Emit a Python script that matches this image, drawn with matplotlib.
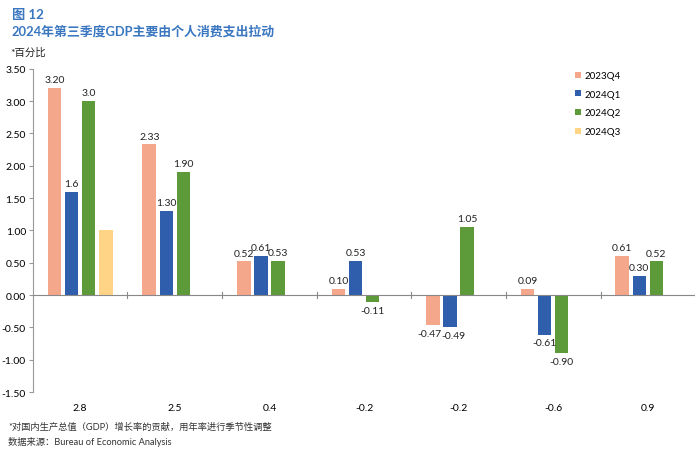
import numpy as np
import matplotlib
matplotlib.use("Agg")
import matplotlib.pyplot as plt

plt.rcParams['font.family'] = ['Lato', 'Noto Sans CJK SC', 'DejaVu Sans']

# data
categories = ["2.8", "2.5", "0.4", "-0.2", "-0.2", "-0.6", "0.9"]
series = ["2023Q4", "2024Q1", "2024Q2", "2024Q3"]
q4_2023 = [3.20, 2.33, 0.52, 0.10, -0.47, 0.09, 0.61]
q1_2024 = [1.6, 1.30, 0.61, 0.53, -0.49, -0.61, 0.30]
q2_2024 = [3.0, 1.90, 0.53, -0.11, 1.05, -0.90, 0.52]
q3_2024 = [1.0, np.nan, np.nan, np.nan, np.nan, np.nan, np.nan]
lab_q4 = ["3.20", "2.33", "0.52", "0.10", "-0.47", "0.09", "0.61"]
lab_q1 = ["1.6", "1.30", "0.61", "0.53", "-0.49", "-0.61", "0.30"]
lab_q2 = ["3.0", "1.90", "0.53", "-0.11", "1.05", "-0.90", "0.52"]
lab_q3 = ["", "", "", "", "", "", ""]

colors = ["#F4A78A", "#2F5EAC", "#5C9A3A", "#FFD486"]
values = [q4_2023, q1_2024, q2_2024, q3_2024]
labels = [lab_q4, lab_q1, lab_q2, lab_q3]

fig = plt.figure(figsize=(7, 4.56), dpi=100)
ax = fig.add_axes([0.047, 0.138, 0.946, 0.709])

x = np.arange(len(categories))
w = 0.143
step = 0.18
for i in range(4):
    xs = x + (i - 1.5) * step
    ax.bar(xs, values[i], width=w, color=colors[i], label=series[i], zorder=2)
    for xi, v, t in zip(xs, values[i], labels[i]):
        if t == "" or np.isnan(v):
            continue
        if v >= 0:
            ax.text(xi, v + 0.06, t, ha='center', va='bottom', fontsize=7.5, color='#222222')
        else:
            # the two neighbouring negative labels crowd each other, nudge apart
            dx = 0
            if t == "-0.47":
                dx = -0.035
            if t == "-0.49":
                dx = 0.035
            ax.text(xi + dx, v - 0.06, t, ha='center', va='top', fontsize=7.5, color='#222222')

ax.set_xlim(-0.5, len(categories) - 0.5)
ax.set_ylim(-1.5, 3.5)
ax.set_yticks(np.arange(-1.5, 3.51, 0.5))
ax.set_yticklabels(["%.2f" % v for v in np.arange(-1.5, 3.51, 0.5)], fontsize=7.5)

for s in ['top', 'right', 'bottom']:
    ax.spines[s].set_visible(False)
ax.spines['left'].set_color('#999999')
ax.tick_params(axis='y', length=3, color='#999999', pad=2)

# zero line with separators
ax.axhline(0, color='#888888', lw=0.8, zorder=3)
for b in np.arange(0.5, len(categories), 1.0):
    ax.plot([b, b], [-0.04, 0.04], color='#888888', lw=0.8, zorder=3)
ax.set_xticks(x)
ax.set_xticklabels(categories, fontsize=7.5)
ax.tick_params(axis='x', length=0, pad=8)

leg = ax.legend(loc='upper left', bbox_to_anchor=(0.805, 1.02), frameon=False,
                fontsize=7, handlelength=0.6, handleheight=0.6, labelspacing=1.0,
                handletextpad=0.4)

fig.text(0.017, 0.968, "图 12", fontsize=9.5, fontweight='bold', color='#3A77C0', va='center')
fig.text(0.017, 0.932, "2024年第三季度GDP主要由个人消费支出拉动", fontsize=9.3, fontweight='bold',
         color='#3A77C0', va='center')
fig.text(0.015, 0.884, "*百分比", fontsize=7.5, color='#222222', va='center')
fig.text(0.012, 0.064, "*对国内生产总值（GDP）增长率的贡献，用年率进行季节性调整", fontsize=6.7,
         color='#333333', va='center')
fig.text(0.012, 0.03, "数据来源：Bureau of Economic Analysis", fontsize=6.7, color='#333333', va='center')

fig.savefig("out.png", dpi=100)
